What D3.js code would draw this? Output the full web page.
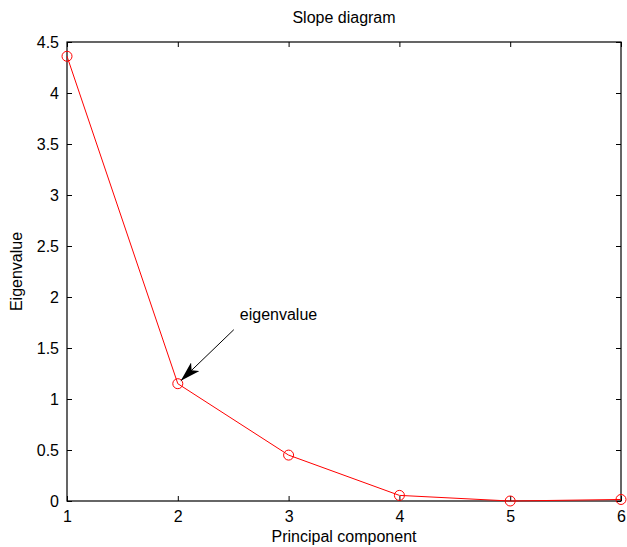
<!DOCTYPE html>
<html>
<head>
<meta charset="utf-8">
<script src="https://cdn.jsdelivr.net/npm/d3@7"></script>
<style>
body { margin: 0; background: #fff; }
text { font-family: "Liberation Sans", Arial, sans-serif; }
</style>
</head>
<body>
<svg width="627" height="547"></svg>
<script>
// principal components vs eigenvalues
var components = [1, 2, 3, 4, 5, 6]
var eigenvalues = [4.36, 1.15, 0.45, 0.055, 0.0, 0.015]
var xTicks = [1, 2, 3, 4, 5, 6]
var yTicks = [0, 0.5, 1, 1.5, 2, 2.5, 3, 3.5, 4, 4.5]

var svg = d3.select('svg')
var plotLeft = 67, plotRight = 621, plotTop = 42, plotBottom = 501

var x = d3.scaleLinear().domain([1, 6]).range([plotLeft, plotRight])
var y = d3.scaleLinear().domain([0, 4.5]).range([plotBottom, plotTop])

// box
svg.append('rect')
    .attr('x', plotLeft).attr('y', plotTop)
    .attr('width', plotRight - plotLeft).attr('height', plotBottom - plotTop)
    .attr('fill', 'none').attr('stroke', '#000').attr('stroke-width', 1.2)

var tickLen = 5
var fmt = function (d) { return String(d) }

var xAxis = d3.axisBottom(x).tickValues(xTicks).tickSize(-tickLen).tickPadding(10).tickFormat(fmt)
var yAxis = d3.axisLeft(y).tickValues(yTicks).tickSize(-tickLen).tickPadding(8).tickFormat(fmt)

svg.append('g').attr('transform', 'translate(0,' + plotBottom + ')').call(xAxis)
svg.append('g').attr('transform', 'translate(0,' + plotTop + ')')
    .call(d3.axisTop(x).tickValues(xTicks).tickSize(-tickLen).tickFormat(''))
svg.append('g').attr('transform', 'translate(' + plotLeft + ',0)').call(yAxis)
svg.append('g').attr('transform', 'translate(' + plotRight + ',0)')
    .call(d3.axisRight(y).tickValues(yTicks).tickSize(-tickLen).tickFormat(''))

svg.selectAll('.domain').remove()
svg.selectAll('.tick line').attr('stroke', '#000')
svg.selectAll('.tick text').attr('font-size', 16).attr('fill', '#000')
    .style('font-family', '"Liberation Sans", Arial, sans-serif')

// line + markers
var line = d3.line()
    .x(function (d, i) { return x(components[i]) })
    .y(function (d) { return y(d) })

svg.append('path')
    .datum(eigenvalues)
    .attr('d', line)
    .attr('fill', 'none')
    .attr('stroke', '#ff0000')
    .attr('stroke-width', 1)

svg.selectAll('circle.pt')
    .data(eigenvalues)
    .enter()
    .append('circle')
    .attr('class', 'pt')
    .attr('cx', function (d, i) { return x(components[i]) })
    .attr('cy', function (d) { return y(d) })
    .attr('r', 5)
    .attr('fill', 'none')
    .attr('stroke', '#ff0000')
    .attr('stroke-width', 1)

// annotation arrow
svg.append('defs').append('marker')
    .attr('id', 'head')
    .attr('viewBox', '0 0 20 12')
    .attr('refX', 20).attr('refY', 6)
    .attr('markerWidth', 20).attr('markerHeight', 12)
    .attr('markerUnits', 'userSpaceOnUse')
    .attr('orient', 'auto')
    .append('path')
    .attr('d', 'M0,0 L20,6 L0,12 L5,6 Z')
    .attr('fill', '#000')

var ax = x(2), ay = y(eigenvalues[1])
svg.append('line')
    .attr('x1', ax + 56).attr('y1', ay - 54)
    .attr('x2', ax + 3).attr('y2', ay - 3)
    .attr('stroke', '#000').attr('stroke-width', 1)
    .attr('marker-end', 'url(#head)')

svg.append('text')
    .attr('x', ax + 62).attr('y', ay - 64)
    .attr('font-size', 16)
    .text('eigenvalue')

// titles
svg.append('text')
    .attr('x', (plotLeft + plotRight) / 2).attr('y', 23)
    .attr('text-anchor', 'middle').attr('font-size', 16)
    .text('Slope diagram')

svg.append('text')
    .attr('x', (plotLeft + plotRight) / 2).attr('y', 542)
    .attr('text-anchor', 'middle').attr('font-size', 16)
    .text('Principal component')

svg.append('text')
    .attr('transform', 'translate(22,' + ((plotTop + plotBottom) / 2) + ') rotate(-90)')
    .attr('text-anchor', 'middle').attr('font-size', 16)
    .text('Eigenvalue')
</script>
</body>
</html>
